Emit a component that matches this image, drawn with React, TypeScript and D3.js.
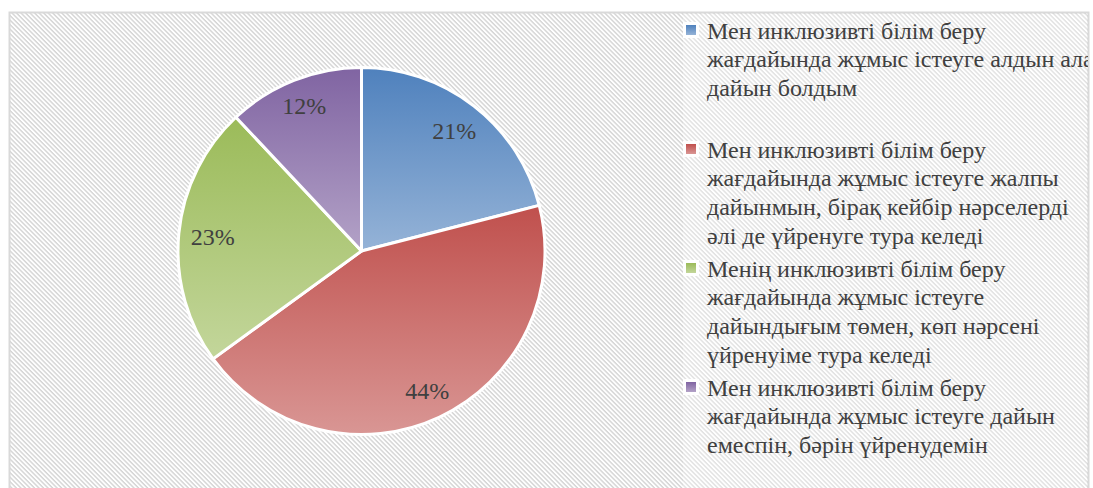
import React from "react";
import * as d3 from "d3";

const categories = [
  ["Мен инклюзивті білім беру", "жағдайында жұмыс істеуге алдын ала", "дайын болдым"],
  ["Мен инклюзивті білім беру", "жағдайында жұмыс істеуге жалпы", "дайынмын, бірақ кейбір нәрселерді", "әлі де үйренуге тура келеді"],
  ["Менің инклюзивті білім беру", "жағдайында жұмыс істеуге", "дайындығым төмен, көп нәрсені", "үйренуіме тура келеді"],
  ["Мен инклюзивті білім беру", "жағдайында жұмыс істеуге дайын", "емеспін, бәрін үйренудемін"],
];
const values = [21, 44, 23, 12];
const labels = ["21%", "44%", "23%", "12%"];
const topColors = ["#4f81bd", "#c0504d", "#9bbb59", "#8064a2"];
const bottomColors = ["#95b3d7", "#d99694", "#c3d69b", "#b3a2c7"];

const W = 1093;
const H = 488;
const cx = 361.5;
const cy = 251;
const R = 183.5;
const FONT = "'Liberation Serif', 'Times New Roman', serif";

export default function App() {
  const pie = d3.pie<number>().sort(null).value((d) => d).startAngle(0).endAngle(2 * Math.PI);
  const arcs = pie(values);
  const arc = d3.arc<d3.PieArcDatum<number>>().innerRadius(0).outerRadius(R);

  const hw = 22, hh = 8.5, margin = 11;
  const labelPos = arcs.map((a) => {
    const m = (a.startAngle + a.endAngle) / 2;
    const dx = Math.sin(m), dy = -Math.cos(m);
    let t = R;
    while (t > 0) {
      const px = dx * t, py = dy * t;
      const far = Math.max(
        Math.hypot(px + hw, py + hh), Math.hypot(px - hw, py + hh),
        Math.hypot(px + hw, py - hh), Math.hypot(px - hw, py - hh)
      );
      if (far <= R - margin) break;
      t -= 0.5;
    }
    return [cx + dx * t, cy + dy * t];
  });

  const legendX = 686;
  const entryStart = 30.5;
  const entryStep = 119;
  const lineStep = 28.8;

  return (
    <svg width={W} height={H} style={{ position: "absolute", left: 0, top: 0, background: "#fff" }}>
      <defs>
        <pattern id="hatch" width="3.2" height="3.2" patternUnits="userSpaceOnUse" patternTransform="rotate(45)">
          <rect width="3.2" height="3.2" fill="#ffffff" />
          <rect width="3.2" height="1.4" fill="#d4d4d4" />
        </pattern>
        {topColors.map((c, i) => (
          <linearGradient key={i} id={`g${i}`} x1="0" y1="0" x2="0" y2="1">
            <stop offset="0" stopColor={c} />
            <stop offset="1" stopColor={bottomColors[i]} />
          </linearGradient>
        ))}
        <clipPath id="area">
          <rect x={9} y={12} width={1079} height={H} />
        </clipPath>
      </defs>
      <rect x={9.5} y={12.5} width={1079} height={H} fill="url(#hatch)" stroke="#d9d9d9" strokeWidth={2} />
      <rect x={683} y={14} width={404} height={H} fill="#fff" opacity={0.3} />
      <g transform={`translate(${cx},${cy})`}>
        {arcs.map((a, i) => (
          <path key={i} d={arc(a) || ""} fill={`url(#g${i})`} stroke="#fff" strokeWidth={3} strokeLinejoin="round" />
        ))}
      </g>
      {labels.map((l, i) => (
        <text key={i} x={labelPos[i][0]} y={labelPos[i][1] + 8} textAnchor="middle" fontFamily={FONT} fontSize={24} fill="#404040">
          {l}
        </text>
      ))}
      <g clipPath="url(#area)">
        {categories.map((lines, i) => {
          const y0 = entryStart + i * entryStep;
          return (
            <g key={i}>
              <rect x={legendX - 3} y={y0 - 8.5} width={16} height={16} fill="#fff" />
              <rect x={legendX} y={y0 - 5.5} width={10} height={10} fill={`url(#g${i})`} />
              <text fontFamily={FONT} fontSize={24} fill="#404040">
                {lines.map((ln, j) => (
                  <tspan key={j} x={707} y={y0 + 8 + j * lineStep}>{ln}</tspan>
                ))}
              </text>
            </g>
          );
        })}
      </g>
    </svg>
  );
}
